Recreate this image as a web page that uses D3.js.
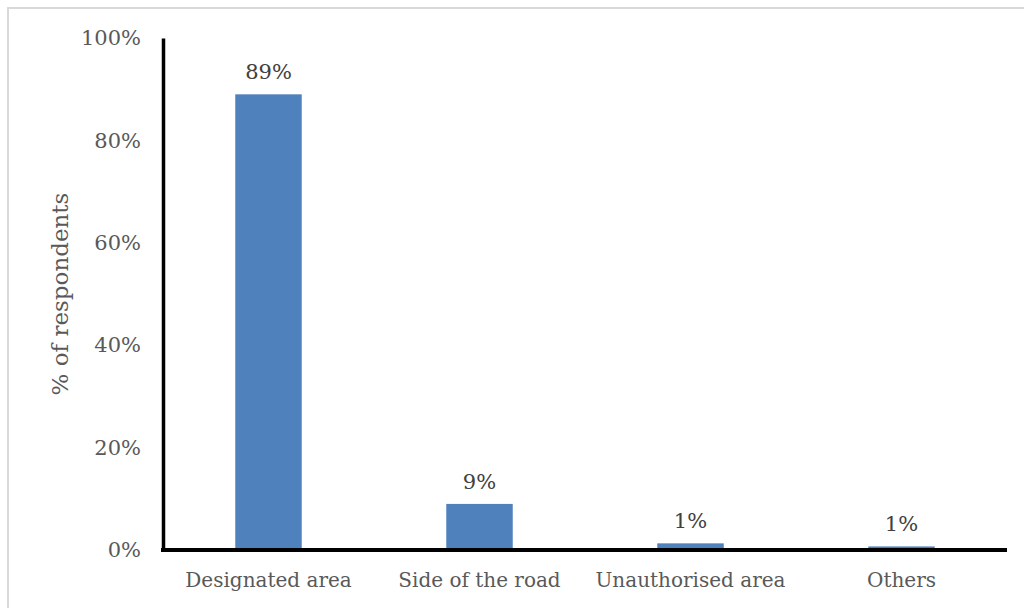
<!DOCTYPE html>
<html>
<head>
<meta charset="utf-8">
<script src="https://cdn.jsdelivr.net/npm/d3@7"></script>
<style>
  html, body { margin: 0; padding: 0; background: #fff; }
  svg { display: block; }
  text { font-family: "DejaVu Serif", serif; }
</style>
</head>
<body>
<svg id="chart" width="1024" height="608"></svg>
<script>
// Where respondents park, share of respondents
const categories = ["Designated area", "Side of the road", "Unauthorised area", "Others"];
const shares = [89, 9, 1.3, 0.7];
const yTicks = [0, 20, 40, 60, 80, 100];
const yTitle = "% of respondents";

const svg = d3.select("#chart");
const margin = { left: 163, right: 17, top: 38, bottom: 58 };
const W = 1024, H = 608;

// outer frame
svg.append("rect")
  .attr("x", 8).attr("y", 8)
  .attr("width", W).attr("height", H)
  .attr("fill", "none").attr("stroke", "#d9d9d9").attr("stroke-width", 2);

const x = d3.scaleBand()
  .domain(categories)
  .range([margin.left, W - margin.right])
  .paddingInner(0.685)
  .paddingOuter(0.3425);

const y = d3.scaleLinear()
  .domain([0, 100])
  .range([H - margin.bottom, margin.top]);

// bars
svg.append("g").selectAll("rect")
  .data(categories)
  .join("rect")
  .attr("x", d => x(d))
  .attr("width", x.bandwidth())
  .attr("y", (d, i) => y(shares[i]))
  .attr("height", (d, i) => y(0) - y(shares[i]))
  .attr("fill", "#4f81bd");

// value labels
svg.append("g").selectAll("text")
  .data(categories)
  .join("text")
  .attr("x", d => x(d) + x.bandwidth() / 2)
  .attr("y", (d, i) => y(shares[i]) - 15)
  .attr("text-anchor", "middle")
  .attr("font-size", 21)
  .attr("fill", "#404040")
  .text((d, i) => Math.round(shares[i]) + "%");

// y axis
const yAxis = svg.append("g")
  .attr("transform", `translate(${margin.left},0)`)
  .call(d3.axisLeft(y).tickValues(yTicks).tickSize(0).tickPadding(22).tickFormat(d => d + "%"));
yAxis.select(".domain").attr("stroke", "#000").attr("stroke-width", 3.5);
yAxis.selectAll("text")
  .attr("font-size", 21).attr("fill", "#595959")
  .attr("font-family", "DejaVu Serif, serif");

// x axis
const xAxis = svg.append("g")
  .attr("transform", `translate(0,${y(0)})`)
  .call(d3.axisBottom(x).tickSize(0).tickPadding(23));
xAxis.select(".domain").attr("stroke", "#000").attr("stroke-width", 4)
  .attr("d", `M${margin.left - 2},0H${W - margin.right}`);
xAxis.selectAll("text")
  .attr("font-size", 20).attr("fill", "#595959")
  .attr("font-family", "DejaVu Serif, serif");

// y axis title
svg.append("text")
  .attr("transform", `translate(68,${(y(0) + y(100)) / 2}) rotate(-90)`)
  .attr("text-anchor", "middle")
  .attr("font-size", 23)
  .attr("fill", "#595959")
  .text(yTitle);
</script>
</body>
</html>
